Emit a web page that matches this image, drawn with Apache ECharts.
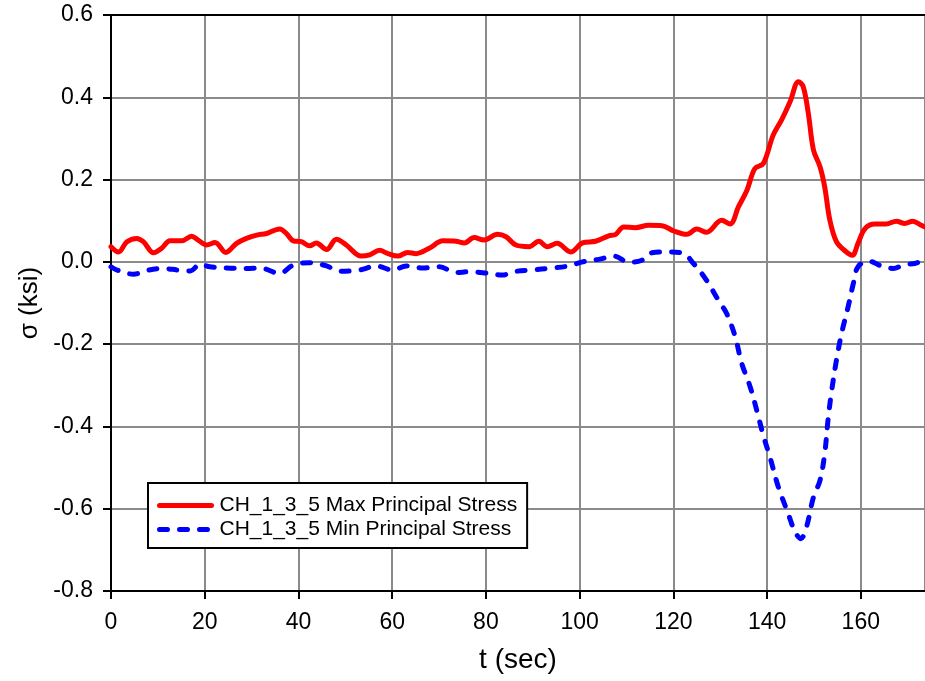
<!DOCTYPE html>
<html>
<head>
<meta charset="utf-8">
<script src="https://cdn.jsdelivr.net/npm/echarts@6/dist/echarts.min.js"></script>
<style>
html,body{margin:0;padding:0;background:#fff;}
#chart{width:925px;height:681px;}
</style>
</head>
<body>
<div id="chart"></div>
<script>
var seriesNames = ['CH_1_3_5 Max Principal Stress', 'CH_1_3_5 Min Principal Stress'];

var timeMax = [0,1.6,3.4,5.5,6.9,9.1,10.8,12.6,15.1,17.2,18.6,20.4,22.2,24.5,26.8,28.9,31.1,33.2,36.0,37.4,38.9,40.6,42.4,43.8,46.0,48.1,50.2,53.4,55.2,57.3,59.1,61.2,63.3,65.1,67.9,70.8,73.6,75.4,77.5,79.6,82.5,84.3,86.4,89.2,91.3,93.1,95.2,98.1,100.6,103.4,106.2,107.7,109.4,111.9,114.7,117.6,120.1,122.9,125.0,127.1,130.3,132.1,133.9,135.7,137.4,139.2,141.3,143.1,144.9,146.7,147.7,148.8,149.9,151.3,152.3,153.4,154.8,156.6,158.2,159.4,160.9,163.0,165.4,167.6,169.4,171.1,172.9,173.7];
var valuesMax = [0.037,0.024,0.049,0.057,0.049,0.022,0.033,0.051,0.051,0.062,0.053,0.041,0.047,0.023,0.045,0.057,0.065,0.069,0.080,0.069,0.051,0.049,0.039,0.046,0.030,0.055,0.041,0.014,0.017,0.028,0.020,0.014,0.023,0.020,0.033,0.051,0.050,0.046,0.059,0.053,0.067,0.061,0.041,0.037,0.050,0.037,0.045,0.024,0.046,0.050,0.063,0.067,0.085,0.083,0.089,0.088,0.075,0.067,0.080,0.072,0.101,0.092,0.134,0.174,0.227,0.239,0.308,0.345,0.389,0.438,0.426,0.361,0.272,0.231,0.182,0.101,0.049,0.027,0.016,0.045,0.081,0.092,0.092,0.099,0.093,0.099,0.089,0.085];

var timeMin = [0,1.3,4.8,8.0,10.9,14.4,16.9,19.0,21.1,24.7,28.9,31.8,36.0,38.9,42.4,46.0,48.8,53.0,56.6,60.1,63.0,66.5,70.1,73.6,76.4,80.0,83.5,86.4,89.9,93.8,97.7,100.6,104.1,107.3,110.5,113.3,115.4,119.0,122.2,124.3,126.8,129.6,131.4,133.2,134.6,136.4,137.8,139.2,140.6,142.4,144.5,146.0,147.2,148.4,149.9,151.3,152.3,153.0,153.7,154.8,155.9,157.3,158.4,159.4,161.6,164.4,166.9,169.4,171.5,173.7];
var valuesMin = [-0.012,-0.020,-0.030,-0.020,-0.016,-0.020,-0.022,-0.006,-0.012,-0.015,-0.016,-0.015,-0.028,-0.008,-0.002,-0.010,-0.023,-0.020,-0.010,-0.020,-0.010,-0.015,-0.012,-0.026,-0.024,-0.027,-0.032,-0.023,-0.020,-0.015,-0.010,0.000,0.006,0.014,-0.001,0.004,0.022,0.024,0.020,-0.004,-0.040,-0.093,-0.126,-0.182,-0.247,-0.304,-0.361,-0.422,-0.474,-0.547,-0.612,-0.657,-0.673,-0.645,-0.572,-0.531,-0.466,-0.385,-0.320,-0.239,-0.174,-0.109,-0.053,-0.012,0.002,-0.010,-0.016,-0.006,-0.004,0.006];

var xAxisTitle = 't (sec)';
var yAxisTitle = 'σ (ksi)';

function zip(a, b) { return a.map(function (x, i) { return [x, b[i]]; }); }

var FONT = '"Liberation Sans", Arial, sans-serif';
var chart = echarts.init(document.getElementById('chart'), null, {renderer: 'canvas'});
chart.setOption({
  backgroundColor: '#ffffff',
  animation: false,
  grid: {left: 111, top: 15, right: -2, bottom: 90, containLabel: false},
  legend: {
    orient: 'vertical',
    left: 148, top: 483,
    padding: [12, 10, 8, 9],
    itemGap: 3,
    itemWidth: 52, itemHeight: 20,
    borderColor: '#000', borderWidth: 2,
    backgroundColor: '#fff',
    textStyle: {fontFamily: FONT, fontSize: 21, color: '#000', padding: [0, 0, 0, 3]},
    itemStyle: {opacity: 0},
    lineStyle: {width: 5, cap: 'round'},
    data: seriesNames
  },
  xAxis: [{
    type: 'value', min: 0, max: 173.7, interval: 20,
    name: xAxisTitle, nameLocation: 'middle', nameGap: 55,
    nameTextStyle: {fontFamily: FONT, fontSize: 28, color: '#000'},
    axisLine: {onZero: false, lineStyle: {color: '#000', width: 2}},
    axisTick: {show: true, inside: false, length: 8, lineStyle: {color: '#000', width: 2}},
    axisLabel: {fontFamily: FONT, fontSize: 23, color: '#000', margin: 20, showMaxLabel: false},
    splitLine: {show: true, lineStyle: {color: '#8a8a8a', width: 2}}
  }, {
    type: 'value', min: 0, max: 173.7, position: 'top',
    axisLine: {onZero: false, lineStyle: {color: '#000', width: 2}},
    axisTick: {show: false}, axisLabel: {show: false}, splitLine: {show: false}
  }],
  yAxis: {
    type: 'value', min: -0.8, max: 0.6, interval: 0.2,
    name: yAxisTitle, nameLocation: 'middle', nameGap: 68, nameRotate: 90,
    nameTextStyle: {fontFamily: FONT, fontSize: 26, color: '#000'},
    axisLine: {show: true, onZero: false, lineStyle: {color: '#000', width: 2}},
    axisTick: {show: true, inside: false, length: 8, lineStyle: {color: '#000', width: 2}},
    axisLabel: {fontFamily: FONT, fontSize: 23, color: '#000', margin: 18,
      formatter: function (v) { return v.toFixed(1); }},
    splitLine: {show: true, lineStyle: {color: '#8a8a8a', width: 2}}
  },
  series: [{
    name: seriesNames[0], type: 'line', xAxisIndex: 0,
    data: zip(timeMax, valuesMax),
    smooth: 0.35, showSymbol: false, symbol: 'none',
    itemStyle: {color: '#ff0000'},
    lineStyle: {color: '#ff0000', width: 5, cap: 'round', join: 'round'},
    z: 3
  }, {
    name: seriesNames[1], type: 'line', xAxisIndex: 0,
    data: zip(timeMin, valuesMin),
    smooth: 0.35, showSymbol: false, symbol: 'none',
    itemStyle: {color: '#0000ff'},
    lineStyle: {color: '#0000ff', width: 5, type: [8, 12], cap: 'round', join: 'round'},
    z: 2
  }]
});
</script>
</body>
</html>
